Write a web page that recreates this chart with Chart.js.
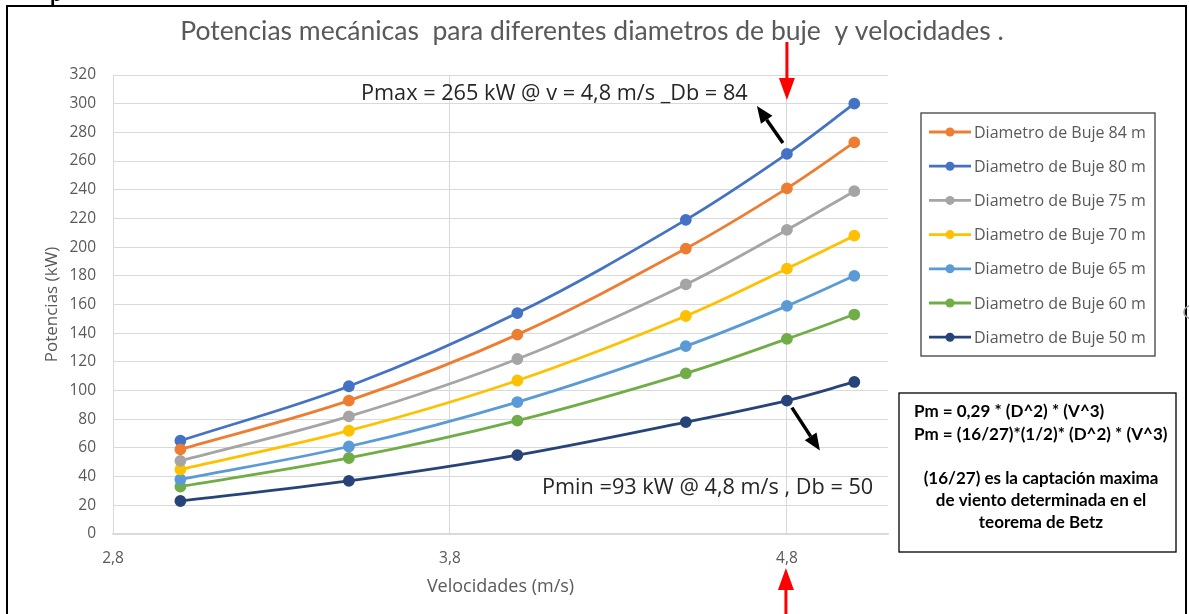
<!DOCTYPE html>
<html>
<head>
<meta charset="utf-8">
<script src="https://cdn.jsdelivr.net/npm/chart.js@4/dist/chart.umd.min.js"></script>
<style>
  html, body { margin: 0; padding: 0; background: #ffffff; }
  #wrap { position: relative; width: 1189px; height: 614px; }
</style>
</head>
<body>
<div id="wrap"><canvas id="c" width="1189" height="614"></canvas></div>
<script>
// Velocidades del viento (m/s)
const velocidades = [3.0, 3.5, 4.0, 4.5, 4.8, 5.0];

// Potencia mecánica (kW) por diámetro de buje
const buje84 = [59, 93, 139, 199, 241, 273];
const buje80 = [65, 103, 154, 219, 265, 300];
const buje75 = [51, 82, 122, 174, 212, 239];
const buje70 = [45, 72, 107, 152, 185, 208];
const buje65 = [38, 61, 92, 131, 159, 180];
const buje60 = [33, 53, 79, 112, 136, 153];
const buje50 = [23, 37, 55, 78, 93, 106];

const etiquetas = [
  'Diametro de Buje 84 m', 'Diametro de Buje 80 m', 'Diametro de Buje 75 m',
  'Diametro de Buje 70 m', 'Diametro de Buje 65 m', 'Diametro de Buje 60 m',
  'Diametro de Buje 50 m'
];
const colores = ['#ED7D31', '#4472C4', '#A5A5A5', '#FFC000', '#5B9BD5', '#70AD47', '#264478'];
const series = [buje84, buje80, buje75, buje70, buje65, buje60, buje50];

// Marcas del eje X
const ticksX = [2.8, 3.8, 4.8];

const FONT_UI = '"Open Sans", "DejaVu Sans", sans-serif';
const FONT_TITLE = 'Lato, "Open Sans", sans-serif';

const datasets = series.map((vals, i) => ({
  label: etiquetas[i],
  data: vals.map((y, k) => ({ x: velocidades[k], y })),
  borderColor: colores[i],
  backgroundColor: colores[i],
  pointBackgroundColor: colores[i],
  pointBorderColor: colores[i],
  borderWidth: 2.8,
  pointRadius: 4.5,
  pointHoverRadius: 4.5,
  tension: 0.35,
  fill: false
}));

function arrow(ctx, x1, y1, x2, y2, color, shaft, headLen, headW) {
  const ang = Math.atan2(y2 - y1, x2 - x1);
  const bx = x2 - Math.cos(ang) * headLen;
  const by = y2 - Math.sin(ang) * headLen;
  ctx.save();
  ctx.strokeStyle = color;
  ctx.fillStyle = color;
  ctx.lineWidth = shaft;
  ctx.lineCap = 'butt';
  ctx.beginPath();
  ctx.moveTo(x1, y1);
  ctx.lineTo(bx, by);
  ctx.stroke();
  const px = -Math.sin(ang) * headW / 2, py = Math.cos(ang) * headW / 2;
  ctx.beginPath();
  ctx.moveTo(x2, y2);
  ctx.lineTo(bx + px, by + py);
  ctx.lineTo(bx - px, by - py);
  ctx.closePath();
  ctx.fill();
  ctx.restore();
}

const decor = {
  id: 'decor',
  afterDraw(chart) {
    const ctx = chart.ctx;
    const xs = chart.scales.x, ys = chart.scales.y;
    ctx.save();

    // marco exterior
    ctx.strokeStyle = '#000';
    ctx.lineWidth = 2;
    ctx.beginPath();
    ctx.moveTo(7, 620); ctx.lineTo(7, 6); ctx.lineTo(1186, 6); ctx.lineTo(1186, 620);
    ctx.stroke();

    // fragmento de texto superior
    ctx.fillStyle = '#000';
    ctx.font = 'bold 22px ' + FONT_TITLE;
    ctx.textBaseline = 'alphabetic';
    ctx.textAlign = 'left';
    ctx.fillText('p', 50, 1);

    // asa de selección
    ctx.strokeStyle = '#9a9a9a';
    ctx.lineWidth = 1.5;
    ctx.beginPath(); ctx.arc(1190, 312, 6, 0, Math.PI * 2); ctx.stroke();

    // título
    ctx.fillStyle = '#595959';
    ctx.font = '26.5px ' + FONT_TITLE;
    ctx.textAlign = 'center';
    ctx.textBaseline = 'middle';
    ctx.fillText('Potencias mecánicas  para diferentes diametros de buje  y velocidades .', 592, 31);

    // leyenda
    const lx = 921, ly = 113, lw = 234, lh = 243;
    ctx.fillStyle = '#fff';
    ctx.fillRect(lx, ly, lw, lh);
    ctx.strokeStyle = '#404040';
    ctx.lineWidth = 1.3;
    ctx.strokeRect(lx, ly, lw, lh);
    ctx.font = '16px ' + FONT_UI;
    ctx.textAlign = 'left';
    ctx.textBaseline = 'middle';
    chart.data.datasets.forEach((ds, i) => {
      const y = 132 + i * 34.2;
      ctx.strokeStyle = ds.borderColor;
      ctx.lineWidth = 2.8;
      ctx.beginPath(); ctx.moveTo(929, y); ctx.lineTo(971, y); ctx.stroke();
      ctx.fillStyle = ds.borderColor;
      ctx.beginPath(); ctx.arc(950, y, 4.5, 0, Math.PI * 2); ctx.fill();
      ctx.fillStyle = '#595959';
      ctx.fillText(ds.label, 974, y + 1);
    });

    // anotaciones de máximo y mínimo
    ctx.fillStyle = '#262626';
    ctx.font = '21.7px ' + FONT_UI;
    ctx.textAlign = 'left';
    ctx.textBaseline = 'middle';
    ctx.fillText('Pmax = 265 kW @ v = 4,8 m/s _Db = 84', 361, 94);
    ctx.fillText('Pmin =93 kW @ 4,8 m/s , Db = 50', 542, 488);

    const x48 = xs.getPixelForValue(4.8);
    const yMax = ys.getPixelForValue(265);
    const yMin = ys.getPixelForValue(93);
    arrow(ctx, x48 - 4, yMax - 11, x48 - 30, yMax - 48, '#000', 3.5, 17, 14);
    arrow(ctx, x48 + 5, yMin + 7, x48 + 33, yMin + 50, '#000', 3.5, 17, 14);

    // flechas rojas sobre v = 4,8
    arrow(ctx, x48, 42, x48, 100, '#FF0000', 3, 22, 16);
    arrow(ctx, x48 - 1, 620, x48 - 1, 568, '#FF0000', 3, 22, 16);

    // recuadro de fórmulas
    const bx = 899, by = 393, bw = 277, bh = 159;
    ctx.fillStyle = '#fff';
    ctx.fillRect(bx, by, bw, bh);
    ctx.strokeStyle = '#000';
    ctx.lineWidth = 1.3;
    ctx.strokeRect(bx, by, bw, bh);
    ctx.fillStyle = '#000';
    ctx.font = 'bold 17px ' + FONT_TITLE;
    ctx.textAlign = 'left';
    ctx.fillText('Pm = 0,29 * (D^2) * (V^3)', 914, 412);
    ctx.fillText('Pm = (16/27)*(1/2)* (D^2) * (V^3)', 914, 435);
    ctx.textAlign = 'center';
    ctx.fillText('(16/27) es la captación maxima', 1041, 479);
    ctx.fillText('de viento determinada en el', 1041, 501);
    ctx.fillText('teorema de Betz', 1041, 523);

    ctx.restore();
  }
};

new Chart(document.getElementById('c'), {
  type: 'line',
  data: { datasets },
  options: {
    responsive: false,
    devicePixelRatio: 1,
    animation: false,
    layout: { padding: { top: 75, right: 301, bottom: 0, left: 0 } },
    plugins: {
      legend: { display: false },
      title: { display: false },
      tooltip: { enabled: false }
    },
    scales: {
      x: {
        type: 'linear',
        min: 2.8,
        max: 5.1,
        afterFit(scale) { scale.height = 80; },
        afterBuildTicks(scale) { scale.ticks = ticksX.map(v => ({ value: v })); },
        grid: { color: '#D9D9D9', lineWidth: 1, drawTicks: false },
        border: { color: '#D9D9D9', width: 1.5 },
        ticks: {
          padding: 15,
          color: '#595959',
          font: { family: FONT_UI, size: 15.5 },
          callback: v => v.toFixed(1).replace('.', ',')
        },
        title: {
          display: true,
          text: 'Velocidades (m/s)',
          color: '#595959',
          font: { family: FONT_UI, size: 18 },
          padding: { top: 0, bottom: 16 }
        }
      },
      y: {
        min: 0,
        max: 320,
        afterFit(scale) { scale.width = 113; },
        grid: { color: '#D9D9D9', lineWidth: 1, drawTicks: false },
        border: { color: '#D9D9D9', width: 1 },
        ticks: {
          stepSize: 20,
          padding: 17,
          color: '#595959',
          font: { family: FONT_UI, size: 15.5 }
        },
        title: {
          display: true,
          text: 'Potencias (kW)',
          color: '#595959',
          font: { family: FONT_UI, size: 17 },
          padding: { top: 42, bottom: 0 }
        }
      }
    }
  },
  plugins: [decor]
});
</script>
</body>
</html>
